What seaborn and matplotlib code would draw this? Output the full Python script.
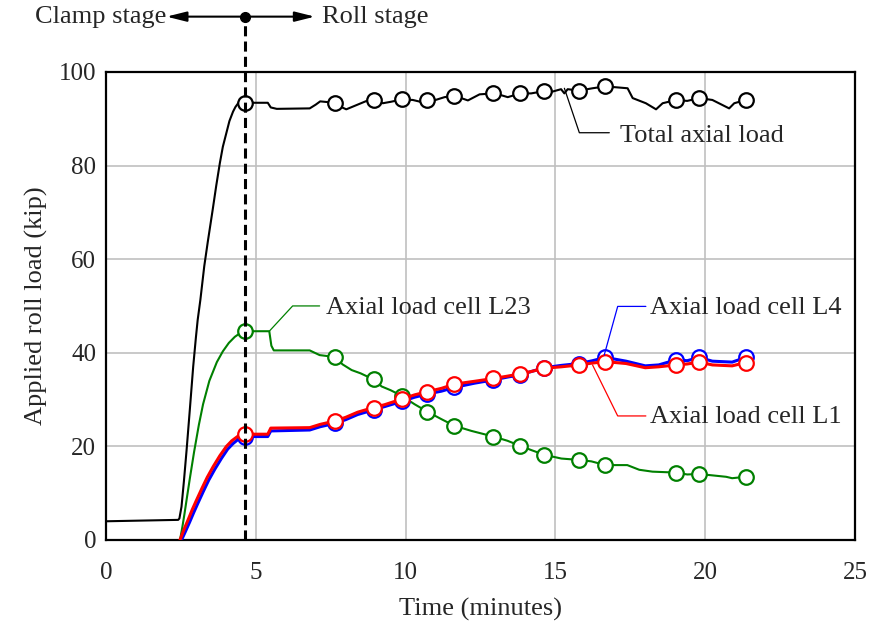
import matplotlib

matplotlib.use("Agg")
import matplotlib.pyplot as plt
import seaborn as sns

# total axial load curve
t_total = [0, 2.41, 2.45, 2.52, 2.6, 2.69, 2.8, 2.91, 3.0, 3.06, 3.15, 3.28, 3.4, 3.56, 3.68,
           3.8, 3.9, 4.02, 4.12, 4.24, 4.32, 4.41, 4.5, 4.63, 5.4, 5.5, 5.7, 6.8, 7.0, 7.15,
           7.63, 7.85, 8.02, 8.36, 8.7, 8.93, 9.24, 9.5, 9.87, 10.24, 10.5, 10.73, 11.0, 11.3,
           11.63, 12.08, 12.47, 12.93, 13.2, 13.41, 13.83, 14.19, 14.63, 14.91, 15.19, 15.3,
           15.41, 15.8, 16.24, 16.67, 17.41, 17.58, 18.02, 18.36, 18.58, 19.03, 19.4, 19.8,
           20.24, 20.8, 20.97, 21.35]
y_total = [4, 4.3, 4.6, 7.1, 12.5, 19.2, 28, 37.0, 43.2, 47, 51.3, 58.5, 63.8, 70.5, 75.7,
           80.5, 84, 87, 89.5, 91.5, 92.5, 93.3, 93.4, 93.4, 93.4, 92.4, 92.1, 92.2, 93.0, 93.7,
           93.4, 92.5, 92.0, 92.9, 93.8, 94.0, 93.3, 93.6, 94.1, 94.0, 93.6, 94.0, 94.0, 94.6,
           94.9, 93.9, 95.2, 95.4, 95.0, 94.6, 95.4, 95.4, 95.9, 95.8, 96.3, 95.4,
           96.3, 96.0, 96.5, 96.9, 96.5, 94.4, 93.3, 92.0, 93.3, 94.0, 93.8, 94.4,
           94.0, 92.2, 93.3, 94.0]

# load cell L23
t_l23 = [2.47, 2.55, 2.62, 2.7, 2.8, 2.94, 3.1, 3.24, 3.45, 3.7, 3.9, 4.1, 4.3, 4.5, 4.63,
         5.45, 5.52, 5.6, 6.8, 7.13, 7.63, 7.9, 8.2, 8.5, 8.93, 9.2, 9.5, 9.87, 10.3, 10.73,
         11.2, 11.63, 12.2, 12.93, 13.4, 13.83, 14.2, 14.63, 15.2, 15.8, 16.2, 16.67,
         17.4, 17.8, 18.24, 19.03, 19.4, 19.8, 20.7, 20.9, 21.35]
y_l23 = [0, 2.8, 5.6, 9.0, 13.2, 18.8, 24.6, 29.0, 34.0, 38.0, 40.3, 42.1, 43.4, 44.3, 44.6,
         44.6, 41.5, 40.5, 40.5, 39.5, 39.1, 37.5, 36.3, 35.6, 34.3, 32.8, 32.0, 30.8, 29.0, 27.4,
         25.8, 24.4, 23.3, 22.1, 21.2, 20.1, 19.2, 18.2, 17.4, 17.1, 16.8, 16.0,
         16.0, 15.0, 14.6, 14.4, 14.0, 14.1, 13.5, 13.2, 13.5]

# load cell L1
t_l1 = [2.47, 2.6, 2.74, 2.88, 3.02, 3.2, 3.38, 3.58, 3.8, 4.02, 4.2, 4.41, 4.63, 5.4, 5.5,
        6.8, 7.15, 7.63, 8.0, 8.4, 8.93, 9.3, 9.87, 10.3, 10.73, 11.2, 11.63, 12.3, 12.93,
        13.4, 13.83, 14.2, 14.63, 15.2, 15.8, 16.24, 16.67, 17.36, 18.0, 18.45, 19.03,
        19.4, 19.8, 20.24, 20.9, 21.35]
y_l1 = [0, 2.2, 4.3, 6.5, 8.5, 11.0, 13.4, 15.7, 18.0, 20.0, 21.2, 22.2, 22.6, 22.6, 23.9,
        24.0, 24.7, 25.4, 26.2, 27.3, 28.3, 28.9, 30.1, 31.0, 31.7, 32.4, 33.3, 33.9, 34.5,
        35.0, 35.5, 36.0, 36.7, 37.0, 37.4, 37.8, 38.1, 37.7, 36.8, 37.0, 37.4,
        37.6, 38.0, 37.4, 37.2, 37.9]

# load cell L4
t_l4 = [2.52, 2.65, 2.79, 2.93, 3.07, 3.25, 3.43, 3.63, 3.85, 4.06, 4.24, 4.43, 4.63, 5.4, 5.5,
        6.8, 7.15, 7.63, 8.0, 8.4, 8.93, 9.3, 9.87, 10.3, 10.73, 11.2, 11.63, 12.3, 12.93,
        13.4, 13.83, 14.2, 14.63, 15.2, 15.8, 16.24, 16.67, 17.36, 18.0, 18.45, 19.03,
        19.4, 19.8, 20.24, 20.9, 21.35]
y_l4 = [0, 1.8, 3.8, 5.9, 7.9, 10.4, 12.8, 15.1, 17.4, 19.4, 20.6, 21.6, 22.1, 22.1, 23.3,
        23.5, 24.2, 24.9, 25.7, 26.8, 27.8, 28.5, 29.6, 30.5, 31.2, 31.8, 32.6, 33.5, 34.2,
        34.8, 35.3, 36.0, 36.8, 37.3, 37.7, 38.3, 39.0, 38.2, 37.2, 37.4, 38.5,
        38.3, 39.0, 38.2, 38.0, 39.0]

# marker positions (same times for every series)
t_mark = [4.63, 7.63, 8.93, 9.87, 10.73, 11.63, 12.93, 13.83, 14.63, 15.8, 16.67, 19.03, 19.8, 21.35]
m_total = [93.4, 93.4, 94.0, 94.1, 94.0, 94.9, 95.4, 95.4, 95.9, 96.0, 96.9, 94.0, 94.4, 94.0]
m_l23 = [44.6, 39.1, 34.3, 30.8, 27.4, 24.4, 22.1, 20.1, 18.2, 17.1, 16.0, 14.4, 14.1, 13.5]
m_l1 = [22.6, 25.4, 28.3, 30.1, 31.7, 33.3, 34.5, 35.5, 36.7, 37.4, 38.1, 37.4, 38.0, 37.9]
m_l4 = [22.1, 24.9, 27.8, 29.6, 31.2, 32.6, 34.2, 35.3, 36.8, 37.7, 39.0, 38.5, 39.0, 39.0]

stage_time = 4.63

sns.set_style("white")
plt.rcParams["font.family"] = ["Liberation Serif", "DejaVu Serif"]

fig, ax = plt.subplots(figsize=(8.76, 6.25), dpi=100)
fig.subplots_adjust(left=0.121, right=0.976, bottom=0.136, top=0.885)

series = [
    (t_total, y_total, m_total, "black", 1.5, 2),
    (t_l23, y_l23, m_l23, "#008000", 1.5, 3),
    (t_l4, y_l4, m_l4, "#0000ff", 2.2, 4),
    (t_l1, y_l1, m_l1, "#ff0000", 2.2, 5),
]
for t, y, m, color, lw, z in series:
    sns.lineplot(x=t, y=y, ax=ax, color=color, lw=lw, estimator=None, sort=False, zorder=z)
    sns.scatterplot(x=t_mark, y=m, ax=ax, s=110, color="white", edgecolor=color,
                    linewidth=1.6, zorder=z + 0.5)

# stage divider
ax.plot([stage_time, stage_time], [0, 111.8], color="black", lw=2.2, ls=(0, (3.3, 1.7)),
        clip_on=False, zorder=6)
ax.plot([stage_time], [111.8], "o", color="black", ms=7, clip_on=False, zorder=7)
arrow = dict(arrowstyle="-|>,head_length=0.8,head_width=0.2", color="black", lw=1.5,
             mutation_scale=15, shrinkA=0, shrinkB=0)
ax.annotate("", xy=(2.02, 111.8), xytext=(stage_time, 111.8), arrowprops=arrow,
            annotation_clip=False)
ax.annotate("", xy=(6.97, 111.8), xytext=(stage_time, 111.8), arrowprops=arrow,
            annotation_clip=False)
ax.text(2.0, 111.8, "Clamp stage", ha="right", va="center", fontsize=19, clip_on=False)
ax.text(7.2, 111.8, "Roll stage", ha="left", va="center", fontsize=19, clip_on=False)

# leader lines and labels
ax.plot([15.3, 15.8, 16.8], [96.5, 87.0, 87.0], color="black", lw=0.9, zorder=8)
ax.text(17.15, 86.2, "Total axial load", ha="left", va="center", fontsize=19)
ax.plot([5.45, 6.23, 7.13], [44.6, 50.0, 50.0], color="#008000", lw=0.9, zorder=8)
ax.text(7.35, 49.6, "Axial load cell L23", ha="left", va="center", fontsize=19)
ax.plot([16.63, 17.08, 18.02], [39.5, 49.9, 49.9], color="#0000ff", lw=0.9, zorder=8)
ax.text(18.17, 49.6, "Axial load cell L4", ha="left", va="center", fontsize=19)
ax.plot([16.24, 17.08, 18.02], [37.4, 26.5, 26.5], color="#ff0000", lw=0.9, zorder=8)
ax.text(18.17, 26.2, "Axial load cell L1", ha="left", va="center", fontsize=19)

ax.set_xlim(0, 25)
ax.set_ylim(0, 100)
ax.set_xticks([0, 5, 10, 15, 20, 25])
ax.set_yticks([0, 20, 40, 60, 80, 100])
ax.grid(True, color="#c0c0c0", lw=1.2)
ax.set_axisbelow(True)
ax.tick_params(axis="both", labelsize=18, length=0)
ax.tick_params(axis="x", pad=16)
ax.tick_params(axis="y", pad=7)
ax.set_xlabel("Time (minutes)", fontsize=19, labelpad=10)
ax.set_ylabel("Applied roll load (kip)", fontsize=19, labelpad=8)
for sp in ax.spines.values():
    sp.set_visible(True)
    sp.set_color("black")
    sp.set_linewidth(1.6)

plt.savefig("out.png", dpi=100)
plt.close()
